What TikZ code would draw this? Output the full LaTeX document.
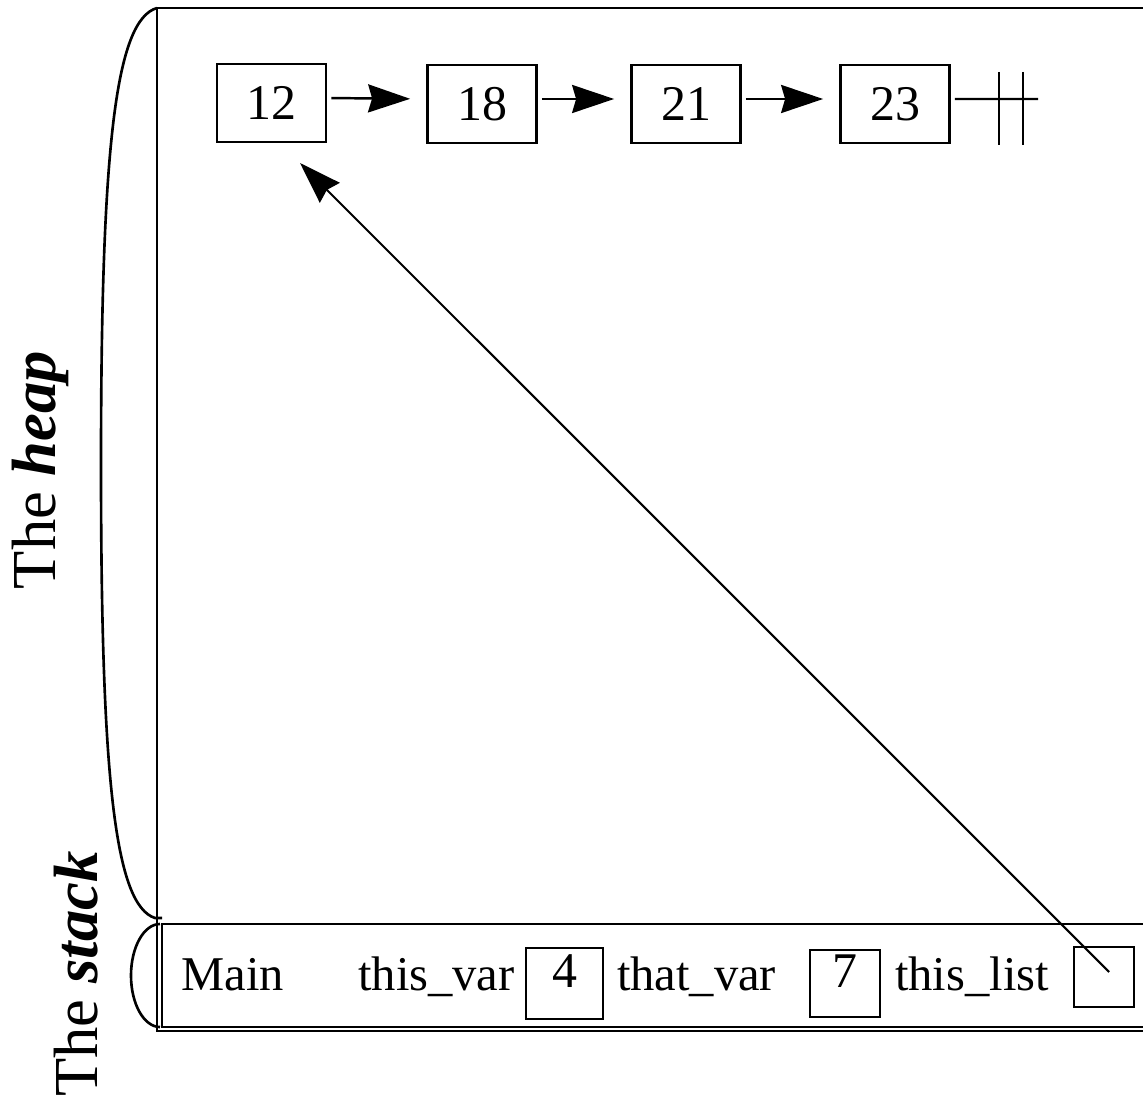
\documentclass[tikz,border=0pt]{standalone}
\usepackage{fontspec}
\setmainfont{Liberation Serif}
\usetikzlibrary{arrows.meta}
\tikzset{
	cell/.style={draw, line width=0.75pt, inner sep=0pt, minimum width=1.09cm, minimum height=0.78cm, font=\fontsize{14.2}{16}\selectfont},
	slot/.style={draw, line width=0.75pt, inner sep=0.04cm, text height=0.35cm, text depth=0.28cm, minimum width=0.77cm, font=\fontsize{14.2}{16}\selectfont},
	word/.style={anchor=base, inner sep=0pt, font=\fontsize{13.8}{16}\selectfont},
	side/.style={rotate=90, anchor=base, inner sep=0pt, font=\fontsize{17.8}{20}\selectfont},
	nextarrow/.style={-{Stealth[length=0.42cm, width=0.28cm, inset=0.04cm]}, line width=0.7pt},
	ptrarrow/.style={-{Stealth[length=0.42cm, width=0.28cm, inset=0.04cm]}, line width=0.6pt},
	frame/.style={line width=0.75pt}
}
\begin{document}
\begin{tikzpicture}[x=0.01cm, y=-0.01cm]
			\useasboundingbox (0,0) rectangle (1143,1097);
			\clip (0,0) rectangle (1143,1097);
			\draw[frame] (1160,8) -- (157,8) -- (157,1031) -- (1160,1031);
			\draw[frame] (1160,924) -- (162,924) -- (162,1027) -- (1160,1027);
			\draw[frame] (157,8) .. controls (115,20) and (101,150) .. (101,465) .. controls (101,780) and (115,905) .. (155,918) -- (162,918);
			\draw[frame] (160,924) .. controls (144,924) and (131,947) .. (131,975.5) .. controls (131,1004) and (144,1027) .. (160,1027);
			\node[side] (heaplabel) at (55,470) {The \textbf{\textit{heap}}};
			\node[side] (stacklabel) at (97,974) {The \textbf{\textit{stack}}};
			\node[cell] (c12) at (271.5,103) {12};
			\node[cell] (c18) at (482,104) {18};
			\node[cell] (c21) at (686,104) {21};
			\node[cell] (c23) at (895,104) {23};
			\foreach \a/\b in {c12/c18,c18/c21,c21/c23}
				\draw[nextarrow, shorten <=0.04cm, shorten >=0.16cm] ([yshift=0.05cm]\a.east) -- ([yshift=0.05cm]\b.west);
			\coordinate (nil) at (1038,99);
			\draw[nextarrow, -] ([yshift=0.05cm, xshift=0.04cm]c23.east) -- (nil);
			\draw[frame] (999,72) -- (999,145);
			\draw[frame] (1023,72) -- (1023,145);
			\node[word] (main) at (233,990) {Main};
			\node[word] (thisvar) at (436.5,990) {this\_var};
			\node[slot] (v4) at (564.5,983.5) {4};
			\node[word] (thatvar) at (696.5,990) {that\_var};
			\node[slot, inner sep=0.02cm, minimum width=0.7cm] (v7) at (845,983.5) {7};
			\node[word] (thislist) at (972,990) {this\_list};
			\node[draw, line width=0.75pt, minimum size=0.6cm, inner sep=0pt] (tl) at (1104,977) {};
			\coordinate (ptr) at (300,163);
			\draw[ptrarrow] ([xshift=0.05cm, yshift=0.05cm]tl.center) -- (ptr);
		\end{tikzpicture}
\end{document}
